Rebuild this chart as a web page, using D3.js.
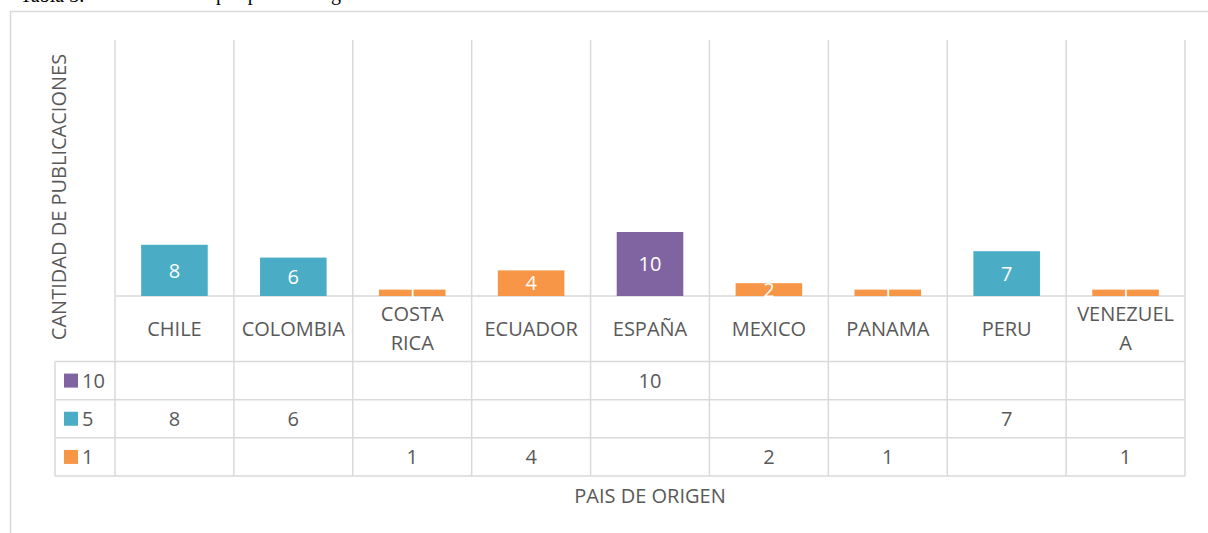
<html>
<head>
    <meta charset="utf-8">
    <style>
        body { margin: 0; background: #fff; }
    </style>
    <script src="https://d3js.org/d3.v7.min.js"></script>
</head>
<body>
    <svg width=1208 height=533></svg>
</body>
<script>

    // data
    const categories = ["CHILE", "COLOMBIA", "COSTA RICA", "ECUADOR", "ESPAÑA", "MEXICO", "PANAMA", "PERU", "VENEZUELA"];
    const categoryLabels = [["CHILE"], ["COLOMBIA"], ["COSTA", "RICA"], ["ECUADOR"], ["ESPAÑA"], ["MEXICO"], ["PANAMA"], ["PERU"], ["VENEZUEL", "A"]];
    const seriesNames = ["10", "5", "1"];
    const serie10 = [null, null, null, null, 10, null, null, null, null];
    const serie5 = [8, 6, null, null, null, null, null, 7, null];
    const serie1 = [null, null, 1, 4, null, 2, 1, null, 1];
    const colors = ["#8064A2", "#4BACC6", "#F79646"];
    const yMax = 40;

    const svg = d3.select("svg");
    const grey = "#d9d9d9";
    const textColor = "#595959";
    const font = "'Open Sans', sans-serif";
    const fs = "20px ";

    // caption of the page, cut by the top edge
    svg.append("text")
        .attr("x", 20).attr("y", 2)
        .style("font", "20px 'Liberation Serif', serif")
        .attr("fill", "#000")
        .text("Tabla 3.");
    svg.append("text")
        .attr("x", 216).attr("y", 0)
        .style("font", "20px 'Liberation Serif', serif")
        .attr("fill", "#000")
        .text("por país de origen");

    // chart frame
    svg.append("path")
        .attr("d", "M10.5,533V11.5H1208")
        .attr("fill", "none")
        .attr("stroke", grey)
        .attr("stroke-width", 1.5);

    let left = 115, right = 1185;
    let plotTop = 40, baseY = 296;
    let tableTop = 361.5, tableBottom = 476;

    let x = d3.scaleBand()
        .domain(categories)
        .range([left, right]);

    let y = d3.scaleLinear()
        .domain([0, yMax])
        .range([baseY, plotTop]);

    let rows = d3.scaleBand()
        .domain(seriesNames)
        .range([tableTop, tableBottom]);

    let z = d3.scaleOrdinal()
        .domain(seriesNames)
        .range(colors);

    // vertical grid lines (category separators through the table)
    svg.append("g")
        .selectAll("line")
        .data(categories.concat(["end"]))
        .join("line")
            .attr("x1", (d, i) => i < categories.length ? x(d) : right)
            .attr("x2", (d, i) => i < categories.length ? x(d) : right)
            .attr("y1", plotTop)
            .attr("y2", tableBottom)
            .attr("stroke", grey)
            .attr("stroke-width", 1.5);

    // horizontal lines: axis + table rows
    svg.append("line")
        .attr("x1", left).attr("x2", right)
        .attr("y1", baseY).attr("y2", baseY)
        .attr("stroke", grey).attr("stroke-width", 1.5);

    let hLines = seriesNames.map(s => rows(s)).concat([tableBottom]);
    svg.append("g")
        .selectAll("line")
        .data(hLines)
        .join("line")
            .attr("x1", 55).attr("x2", right)
            .attr("y1", d => d).attr("y2", d => d)
            .attr("stroke", grey).attr("stroke-width", 1.5);

    svg.append("line")
        .attr("x1", 55).attr("x2", 55)
        .attr("y1", tableTop).attr("y2", tableBottom)
        .attr("stroke", grey).attr("stroke-width", 1.5);

    // stacked bars
    const table = categories.map((c, i) => ({cat: c, "10": serie10[i] || 0, "5": serie5[i] || 0, "1": serie1[i] || 0}));
    const stacked = d3.stack().keys(seriesNames)(table);
    const barW = x.bandwidth() * 0.56;

    const bars = svg.append("g")
        .selectAll("g")
        .data(stacked)
        .join("g")
        .attr("fill", d => z(d.key));

    bars.selectAll("rect")
        .data(d => d.filter(v => v[1] > v[0]))
        .join("rect")
            .attr("x", d => x(d.data.cat) + (x.bandwidth() - barW) / 2)
            .attr("width", barW)
            .attr("y", d => y(d[1]))
            .attr("height", d => y(d[0]) - y(d[1]));

    // white data labels in the middle of each bar
    bars.selectAll("text")
        .data(d => d.filter(v => v[1] > v[0]))
        .join("text")
            .attr("x", d => x(d.data.cat) + x.bandwidth() / 2)
            .attr("y", d => (y(d[0]) + y(d[1])) / 2)
            .attr("dy", "0.36em")
            .attr("text-anchor", "middle")
            .attr("fill", "#fff")
            .style("font", fs + font)
            .text(d => d[1] - d[0]);

    // category labels
    svg.append("g")
        .selectAll("text")
        .data(categories)
        .join("text")
            .attr("text-anchor", "middle")
            .attr("fill", textColor)
            .style("font", fs + font)
            .attr("transform", d => `translate(${x(d) + x.bandwidth() / 2},${(baseY + tableTop) / 2})`)
            .each(function(d, i) {
                let lines = categoryLabels[i];
                let lh = 29;
                d3.select(this).selectAll("tspan")
                    .data(lines)
                    .join("tspan")
                        .attr("x", 0)
                        .attr("y", (l, j) => (j - (lines.length - 1) / 2) * lh)
                        .attr("dy", "0.36em")
                        .text(l => l);
            });

    // data table
    const values = {"10": serie10, "5": serie5, "1": serie1};
    seriesNames.forEach(s => {
        let cy = rows(s) + rows.bandwidth() / 2;
        svg.append("rect")
            .attr("x", 64).attr("y", cy - 7)
            .attr("width", 14).attr("height", 14)
            .attr("fill", z(s));
        svg.append("text")
            .attr("x", 82).attr("y", cy)
            .attr("dy", "0.36em")
            .attr("fill", textColor)
            .style("font", fs + font)
            .text(s);
        svg.append("g")
            .selectAll("text")
            .data(categories.map((c, i) => ({cat: c, v: values[s][i]})).filter(d => d.v != null))
            .join("text")
                .attr("x", d => x(d.cat) + x.bandwidth() / 2)
                .attr("y", cy)
                .attr("dy", "0.36em")
                .attr("text-anchor", "middle")
                .attr("fill", textColor)
                .style("font", fs + font)
                .text(d => d.v);
    });

    // axis titles
    svg.append("text")
        .attr("x", (left + right) / 2)
        .attr("y", 496)
        .attr("dy", "0.36em")
        .attr("text-anchor", "middle")
        .attr("fill", textColor)
        .style("font", fs + font)
        .text("PAIS DE ORIGEN");

    svg.append("text")
        .attr("transform", "translate(59,197) rotate(-90)")
        .attr("dy", "0.36em")
        .attr("text-anchor", "middle")
        .attr("fill", textColor)
        .style("font", fs + font)
        .text("CANTIDAD DE PUBLICACIONES");

</script>
</html>
